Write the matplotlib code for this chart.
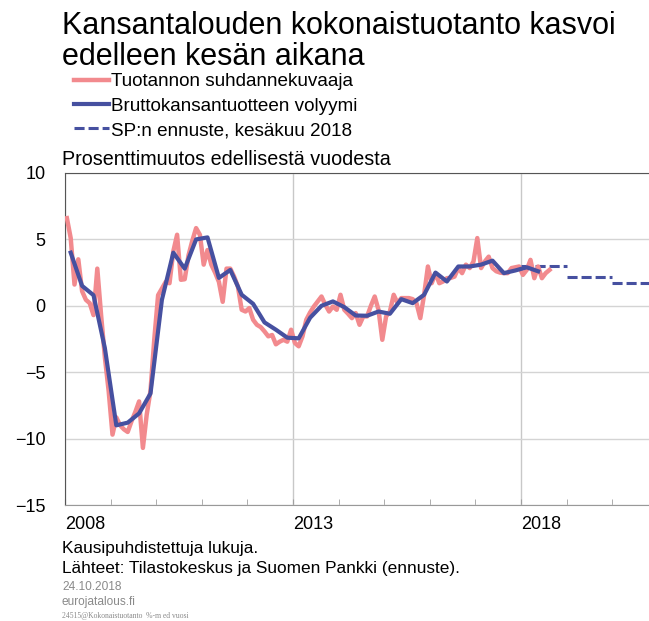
import matplotlib
matplotlib.use("Agg")
import matplotlib.pyplot as plt
import numpy as np

plt.rcParams['font.family'] = ['Liberation Sans', 'DejaVu Sans']

# ---- data ----
trend_start_year = 2008  # monthly series starts Jan 2008
trend_values = [
    6.6, 5.1, 1.6, 3.5, 1.1, 0.45, 0.2, -0.7, 2.8, -0.7, -3.9, -6.45,
    -9.7, -8.4, -9.0, -9.3, -9.5, -8.7, -8.0, -7.2, -10.7, -8.2, -6.4, -2.5,
    0.8, 1.3, 1.8, 1.7, 4.1, 5.35, 1.96, 2.0, 3.8, 4.9, 5.85, 5.35,
    3.1, 4.2, 3.1, 2.5, 1.8, 0.3, 2.8, 2.8, 2.2, 1.45, -0.3, -0.43,
    -0.17, -1.05, -1.43, -1.6, -1.93, -2.3, -2.2, -2.9, -2.7, -2.56, -2.7, -1.8,
    -2.8, -3.05, -2.3, -1.05, -0.5, -0.05, 0.33, 0.7, 0.08, -0.43, -0.05, -0.3,
    0.83, -0.3, -0.6, -0.93, -0.55, -1.43, -0.8, -0.8, 0.0, 0.7, -0.3, -2.56,
    -0.8, -0.43, 0.83, 0.2, 0.58, 0.58, 0.58, 0.5, 0.2, -0.93, 0.83, 2.96,
    1.7, 2.46, 1.7, 1.83, 2.08, 2.1, 2.2, 2.84, 2.46, 3.1, 2.84, 3.34,
    5.1, 2.84, 3.34, 3.7, 2.84, 2.6, 2.5, 2.46, 2.46, 2.84, 2.9, 2.96,
    2.33, 2.7, 3.46, 2.08, 2.96, 2.08, 2.46, 2.7,
]
gdp_start_year = 2008  # quarterly series starts 2008Q1
gdp_values = [
    4.0, 1.5, 0.8, -3.2,
    -9.0, -8.8, -8.1, -6.6,
    0.45, 4.0, 2.8, 5.0,
    5.15, 2.1, 2.7, 0.83,
    0.15, -1.25, -1.8, -2.4,
    -2.45, -0.9, 0.0, 0.33,
    -0.1, -0.73, -0.75, -0.43,
    -0.6, 0.5, 0.2, 0.83,
    2.5, 1.83, 2.96, 2.96,
    3.1, 3.4, 2.46, 2.66,
    2.9, 2.6,
]
forecast_years = [2018, 2019, 2020]
forecast_values = [3.0, 2.2, 1.7]

labels = ["Tuotannon suhdannekuvaaja", "Bruttokansantuotteen volyymi",
          "SP:n ennuste, kesäkuu 2018"]
title_lines = ["Kansantalouden kokonaistuotanto kasvoi", "edelleen kesän aikana"]
subtitle = "Prosenttimuutos edellisestä vuodesta"
notes = ["Kausipuhdistettuja lukuja.",
         "Lähteet: Tilastokeskus ja Suomen Pankki (ennuste)."]
date_txt = "24.10.2018"
site_txt = "eurojatalous.fi"
code_txt = "24515@Kokonaistuotanto  %-m ed vuosi"
year_ticks = [2008, 2013, 2018]

PINK = '#F28A8E'
BLUE = '#4650A0'

W, H = 649, 621
fig = plt.figure(figsize=(W / 100, H / 100), dpi=100)
ax_left, ax_top, ax_bottom = 65, 173, 505
ax = fig.add_axes([ax_left / W, 1 - ax_bottom / H, 1 - ax_left / W, (ax_bottom - ax_top) / H])

tx = trend_start_year + (np.arange(len(trend_values)) + 0.5) / 12
gx = gdp_start_year + (np.arange(len(gdp_values)) + 0.5) / 4

fc_lines = []
for yr, v in zip(forecast_years, forecast_values):
    ln, = ax.plot([yr, yr + 1], [v, v], color=BLUE, lw=2.2, dashes=(3.3, 1.3),
                  solid_capstyle='butt', dash_capstyle='butt', zorder=2)
    fc_lines.append(ln)
l1, = ax.plot(tx, trend_values, color=PINK, lw=3.2, zorder=3, solid_joinstyle='round')
l2, = ax.plot(gx, gdp_values, color=BLUE, lw=3.0, zorder=4, solid_joinstyle='round')

ax.set_xlim(2008, 2008 + (W - ax_left) / 45.6)
ax.set_ylim(-15, 10)
ax.set_yticks([-15, -10, -5, 0, 5, 10])
ax.tick_params(axis='y', length=0, pad=14, labelsize=13)
ax.set_xticks(year_ticks)
ax.set_xticklabels([str(y) for y in year_ticks], ha='left')
ax.set_xticks(np.arange(2008, 2021), minor=True)
ax.tick_params(axis='x', which='both', direction='in', length=4, color='#a0a0a0',
               labelsize=13, pad=8)
ax.grid(axis='y', color='#d4d4d4', lw=1.0)
ax.grid(axis='x', which='major', color='#c8c8c8', lw=1.0)
ax.set_axisbelow(True)
ax.spines['right'].set_visible(False)
ax.spines['left'].set_color('#555555')
ax.spines['top'].set_color('#555555')
ax.spines['bottom'].set_color('#999999')

ax.legend(handles=[l1, l2, fc_lines[0]], labels=labels, loc='upper left',
          bbox_to_anchor=(74 / W, 1 - 73 / H), bbox_transform=fig.transFigure,
          frameon=False, fontsize=13.6, handlelength=1.85, handletextpad=0.1,
          labelspacing=0.38, borderpad=0, borderaxespad=0)

fig.text(62 / W, 1 - 34 / H, title_lines[0], fontsize=22, va='baseline')
fig.text(62 / W, 1 - 65 / H, title_lines[1], fontsize=22, va='baseline')
fig.text(62 / W, 1 - 165 / H, subtitle, fontsize=14.2, va='baseline')
fig.text(62 / W, 1 - 553 / H, notes[0], fontsize=12.4, va='baseline')
fig.text(62 / W, 1 - 573 / H, notes[1], fontsize=12.4, va='baseline')
fig.text(62 / W, 1 - 590 / H, date_txt, fontsize=8.6, va='baseline', color='#8a8a8a')
fig.text(62 / W, 1 - 605 / H, site_txt, fontsize=8.6, va='baseline', color='#8a8a8a')
fig.text(62 / W, 1 - 618 / H, code_txt, fontsize=5.5, va='baseline', color='#8a8a8a',
         family=['Liberation Serif', 'DejaVu Serif'])

fig.savefig('out.png', dpi=100)
